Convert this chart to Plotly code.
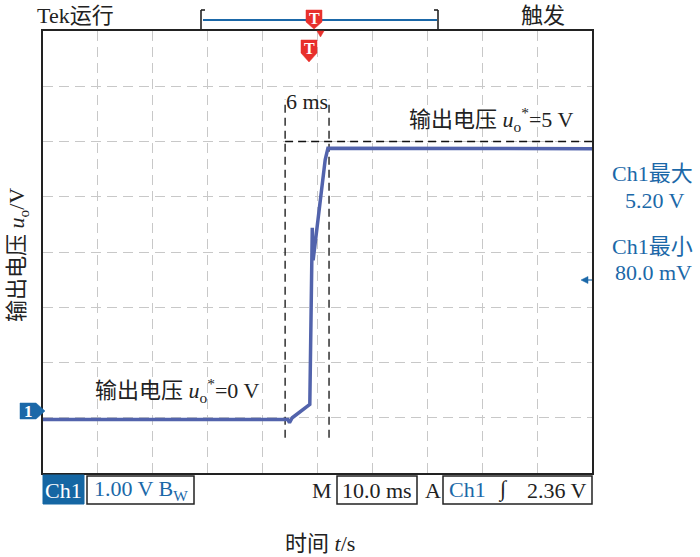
import plotly.graph_objects as go

# ---------------- data ----------------
time_ms = [0, 44.6, 44.9, 45.4, 48.6, 49.0, 49.05, 49.12, 49.2, 51.4, 51.9, 100]
volts = [-0.03, -0.03, -0.09, 0.0, 0.24, 2.82, 3.44, 2.95, 2.85, 4.67, 4.88, 4.87]

ref_level_v = 5.0
ref_level_span_ms = [44.1, 100]
marker_times_ms = [44.1, 52.1]
marker_v_span = [-0.36, 5.76]

x_range = [0, 100]   # 10 ms/div
y_range = [-1, 7]    # 1.00 V/div

# ---------------- geometry helpers ----------------
W, H = 700, 557
L, R, T, B = 43, 592, 31, 473


def X(px):
    return (px - L) / (R - L)


def Y(py):
    return (B - py) / (B - T)


FONT = "Liberation Serif, Noto Sans CJK SC, serif"
BLUE = "#1b68a8"
TRACE = "#5263ac"
DARK = "#222222"

fig = go.Figure()

# reference dashed lines
fig.add_trace(go.Scatter(x=ref_level_span_ms, y=[ref_level_v, ref_level_v], mode="lines",
                         line=dict(color="#111", width=1.3, dash="8px,5px"), hoverinfo="skip"))
for tm in marker_times_ms:
    fig.add_trace(go.Scatter(x=[tm, tm], y=marker_v_span, mode="lines",
                             line=dict(color="#111", width=1.3, dash="8px,5px"), hoverinfo="skip"))

# waveform
fig.add_trace(go.Scatter(x=time_ms, y=volts, mode="lines",
                         line=dict(color=TRACE, width=3.5), hoverinfo="skip"))

shapes = []
ann = []


def text(px, py, s, size=22, color=DARK, angle=0, xanchor="center"):
    ann.append(dict(x=X(px), y=Y(py), xref="paper", yref="paper", text=s, showarrow=False,
                    font=dict(family=FONT, size=size, color=color), textangle=angle,
                    xanchor=xanchor, yanchor="middle"))


def rect(x0, y0, x1, y1, fill="rgba(0,0,0,0)", line="#222", lw=1.5):
    shapes.append(dict(type="rect", xref="paper", yref="paper", x0=X(x0), x1=X(x1),
                       y0=Y(y0), y1=Y(y1), fillcolor=fill, line=dict(color=line, width=lw)))


def path(pts, fill, line=None):
    d = "M " + " L ".join(f"{X(a):.5f},{Y(b):.5f}" for a, b in pts) + " Z"
    shapes.append(dict(type="path", xref="paper", yref="paper", path=d, fillcolor=fill,
                       line=dict(color=line or fill, width=0.5)))


def seg(x0, y0, x1, y1, color, lw):
    shapes.append(dict(type="line", xref="paper", yref="paper", x0=X(x0), x1=X(x1),
                       y0=Y(y0), y1=Y(y1), line=dict(color=color, width=lw)))


# top header
text(75, 16, "Tek运行")
text(543, 16, "触发")
seg(203, 20, 437, 20, BLUE, 2)
seg(201, 10, 201, 30, DARK, 1.6)
seg(201, 10, 205, 10, DARK, 1.6)
seg(438, 10, 438, 30, DARK, 1.6)
seg(434, 10, 438, 10, DARK, 1.6)

# trigger markers
RED = "#e8302c"
path([(306, 10), (322, 10), (322, 22), (314, 29), (306, 22)], RED)
text(314, 18, "<b>T</b>", size=16, color="white")
path([(317, 31), (324, 31), (320.5, 37)], RED)
path([(301, 40), (317, 40), (317, 53), (309, 62), (301, 53)], RED)
text(309, 49, "<b>T</b>", size=16, color="white")

# ground marker "1"
path([(20, 403), (36, 403), (45, 411), (36, 419), (20, 419)], BLUE)
text(28, 411, "<b>1</b>", size=17, color="white")

# trigger level arrow on the right
path([(581, 280), (588, 276.5), (588, 283.5)], BLUE)
seg(586, 280, 592, 280, BLUE, 1.2)

# labels in plot
text(307, 101, "6 ms")
text(491, 120, "输出电压 <i>u</i><sub>o</sub><sup>*</sup>=5 V")
text(177, 390, "输出电压 <i>u</i><sub>o</sub><sup>*</sup>=0 V")

# right-side measurements
text(652, 174, "Ch1最大", color=BLUE)
text(655, 201, "5.20 V", color=BLUE)
text(652, 246, "Ch1最小", color=BLUE)
text(653, 272, "80.0 mV", color=BLUE)

# axis titles
text(18, 255, "输出电压 <i>u</i><sub>o</sub>/V", angle=-90)
text(320, 543, "时间 <i>t</i>/s")

# bottom status bar
rect(43, 475, 84, 504, fill="#1566a3", line="#1566a3", lw=1)
text(63.5, 490, "Ch1", color="white")
rect(87, 476, 194, 504)
text(92, 490, "1.00 V B<sub>W</sub>", color=BLUE, xanchor="left")
text(322, 490, "M")
rect(337, 476, 417, 504)
text(377, 490, "10.0 ms")
text(433, 490, "A")
rect(443, 476, 592, 504)
text(467, 489, "Ch1", color=BLUE)
text(503, 489, "<i>∫</i>")
text(557, 490, "2.36 V")

fig.update_layout(
    width=W, height=H,
    margin=dict(l=L, r=W - R, t=T, b=H - B, pad=0),
    paper_bgcolor="white", plot_bgcolor="white",
    showlegend=False,
    shapes=shapes, annotations=ann,
    xaxis=dict(range=x_range, dtick=10, tick0=0, showticklabels=False, ticks="",
               showgrid=True, gridcolor="#c8c8c8", gridwidth=1, griddash="10px,6px",
               zeroline=False, showline=True, mirror=True, linecolor=DARK, linewidth=2,
               fixedrange=True),
    yaxis=dict(range=y_range, dtick=1, tick0=0, showticklabels=False, ticks="",
               showgrid=True, gridcolor="#c8c8c8", gridwidth=1, griddash="10px,6px",
               zeroline=False, showline=True, mirror=True, linecolor=DARK, linewidth=2,
               fixedrange=True),
)

fig.write_html("out.html", config={"displayModeBar": False},
               post_script="document.body.style.margin='0';document.body.style.overflow='hidden';")
